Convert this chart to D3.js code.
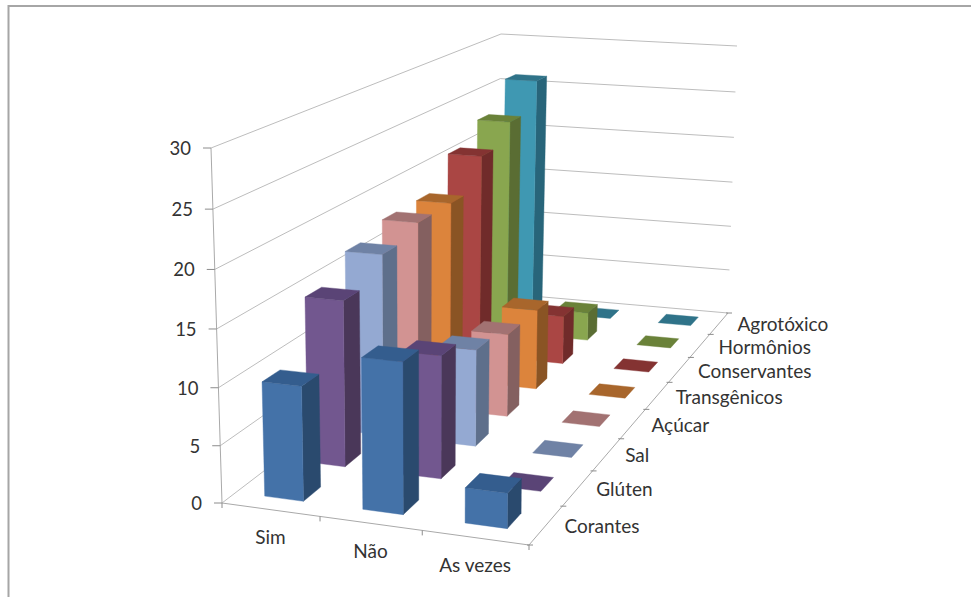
<!DOCTYPE html>
<html>
<head>
<meta charset="utf-8">
<script src="https://cdn.jsdelivr.net/npm/d3@7"></script>
<style>
  html, body { margin: 0; padding: 0; background: #fff; }
  svg { display: block; }
  text { font-family: Lato, "Open Sans", sans-serif; fill: #333; }
</style>
</head>
<body>
<svg id="chart" width="971" height="597"></svg>
<script>
// Survey answers along the front edge, food concerns going back in depth.
const answers = ["Sim", "Não", "As vezes"];
const concerns = ["Corantes", "Glúten", "Sal", "Açúcar", "Transgênicos", "Conservantes", "Hormônios", "Agrotóxico"];
const simValues = [10, 15, 17, 18, 18, 21, 23, 26];
const naoValues = [13, 11, 9, 8, 8, 5, 3, 0];
const asVezesValues = [3, 0, 0, 0, 0, 0, 0, 0];
const valueTicks = [0, 5, 10, 15, 20, 25, 30];
const frontColors = ["#4472a8", "#72578f", "#94a9d2", "#d29392", "#dc843c", "#aa4644", "#89a64f", "#3f98b2"];
const topColors = ["#345d8e", "#5a4476", "#6f82a5", "#a27272", "#a8662c", "#843332", "#6a8239", "#2f7389"];
const sideColors = ["#2a4a6e", "#4a3759", "#5e6f8b", "#846060", "#8a5424", "#702b2a", "#5a6d33", "#28657a"];

const seriesByAnswer = [simValues, naoValues, asVezesValues];

// Box corners of the plot in screen space: floor and ceiling quads, ordered
// front-left, front-right, back-right, back-left.
const floorQuad = [[222, 503], [529, 545], [728, 313], [497, 293]];
const ceilingQuad = [[211, 148], [532, 170], [737, 46], [501, 34]];
// Foreshortening along the vertical: the lower part of the box is further from the eye.
const verticalRatio = 1.04;

// Maps the unit square onto a quad with a projective transform.
function unitSquareToQuad(q) {
  const [[x0, y0], [x1, y1], [x2, y2], [x3, y3]] = q;
  const dx1 = x1 - x2, dx2 = x3 - x2, sx = x0 - x1 + x2 - x3;
  const dy1 = y1 - y2, dy2 = y3 - y2, sy = y0 - y1 + y2 - y3;
  const det = dx1 * dy2 - dx2 * dy1;
  const g = (sx * dy2 - dx2 * sy) / det;
  const h = (dx1 * sy - sx * dy1) / det;
  const a = x1 - x0 + g * x1, b = x3 - x0 + h * x3, c = x0;
  const d = y1 - y0 + g * y1, e = y3 - y0 + h * y3, f = y0;
  return (u, w) => {
    const t = g * u + h * w + 1;
    return [(a * u + b * w + c) / t, (d * u + e * w + f) / t];
  };
}
const onFloor = unitSquareToQuad(floorQuad);
const onCeiling = unitSquareToQuad(ceilingQuad);

const answerScale = d3.scaleBand(answers, [0, 1]).paddingInner(0.6).paddingOuter(0.3);
const concernScale = d3.scaleBand(concerns, [0, 1]).paddingInner(0.6).paddingOuter(0.3);
const valueScale = d3.scaleLinear([0, 30], [0, 1]);

// Screen position of a point given in plot units (u across, w into depth, value up).
function project(u, w, value) {
  const a = onFloor(u, w), b = onCeiling(u, w), s = valueScale(value);
  const t = s / (s + (1 - s) * verticalRatio);
  return [a[0] + (b[0] - a[0]) * t, a[1] + (b[1] - a[1]) * t];
}

const svg = d3.select("#chart");
const polyline = d3.line();
const gridColor = "#bdbdbd", axisColor = "#a9a9a9", tickColor = "#8c8c8c";
const labelSize = 19;

// Outer frame of the slide.
svg.append("path").attr("d", "M8.5,597V6H971").attr("fill", "none")
  .attr("stroke", "#a6a6a6").attr("stroke-width", 2);

// Gridlines on the left and back walls.
const grid = svg.append("g").attr("fill", "none").attr("stroke", gridColor).attr("stroke-width", 1);
valueTicks.forEach(v => {
  grid.append("path").attr("d", polyline([project(0, 0, v), project(0, 1, v), project(1, 1, v)]));
});

// Value axis with its ticks and labels.
const axis = svg.append("g");
axis.append("path").attr("d", polyline([project(0, 0, 0), project(0, 0, 30)]))
  .attr("fill", "none").attr("stroke", axisColor);
valueTicks.forEach(v => {
  const [x, y] = project(0, 0, v);
  axis.append("line").attr("x1", x - 8).attr("x2", x).attr("y1", y).attr("y2", y).attr("stroke", tickColor);
  axis.append("text").attr("x", x - 20).attr("y", y).attr("text-anchor", "end")
    .attr("dominant-baseline", "central").attr("font-size", 18.5).text(v);
});

// Front and right floor edges.
axis.append("path").attr("d", polyline([project(0, 0, 0), project(1, 0, 0), project(1, 1, 0)]))
  .attr("fill", "none").attr("stroke", axisColor);

const answerStep = answerScale.step();
d3.range(answers.length + 1).forEach(i => {
  const [x, y] = project(i * answerStep, 0, 0);
  axis.append("line").attr("x1", x).attr("x2", x).attr("y1", y).attr("y2", y + 5).attr("stroke", tickColor);
});
answers.forEach((name, i) => {
  const [mx, my] = project((i + 0.5) * answerStep, 0, 0);
  axis.append("text").attr("x", mx).attr("y", my + 27).attr("text-anchor", "middle")
    .attr("dominant-baseline", "central").attr("font-size", labelSize).text(name);
});

const concernStep = concernScale.step();
d3.range(concerns.length + 1).forEach(i => {
  const [x, y] = project(1, i * concernStep, 0);
  axis.append("line").attr("x1", x - 2).attr("x2", x + 4).attr("y1", y).attr("y2", y).attr("stroke", tickColor);
});
concerns.forEach((name, i) => {
  const [mx, my] = project(1, (i + 0.5) * concernStep, 0);
  axis.append("text").attr("x", mx + 18.5).attr("y", my + 0.5).attr("text-anchor", "start")
    .attr("dominant-baseline", "central").attr("font-size", labelSize).text(name);
});

// Bars are painted from the back row forwards, left to right within a row.
const bars = svg.append("g");
d3.range(concerns.length - 1, -1, -1).forEach(row => {
  answers.forEach((answer, col) => {
    const value = seriesByAnswer[col][row];
    const u0 = answerScale(answer), u1 = u0 + answerScale.bandwidth();
    const w0 = concernScale(concerns[row]), w1 = w0 + concernScale.bandwidth();
    const g = bars.append("g");
    const face = (pts, color) => g.append("path")
      .attr("d", polyline(pts) + "Z").attr("fill", color).attr("stroke", color).attr("stroke-width", 0.4);
    if (value > 0) {
      face([project(u1, w0, 0), project(u1, w1, 0), project(u1, w1, value), project(u1, w0, value)], sideColors[row]);
      face([project(u0, w0, 0), project(u1, w0, 0), project(u1, w0, value), project(u0, w0, value)], frontColors[row]);
    }
    face([project(u0, w0, value), project(u1, w0, value), project(u1, w1, value), project(u0, w1, value)], topColors[row]);
  });
});
</script>
</body>
</html>
